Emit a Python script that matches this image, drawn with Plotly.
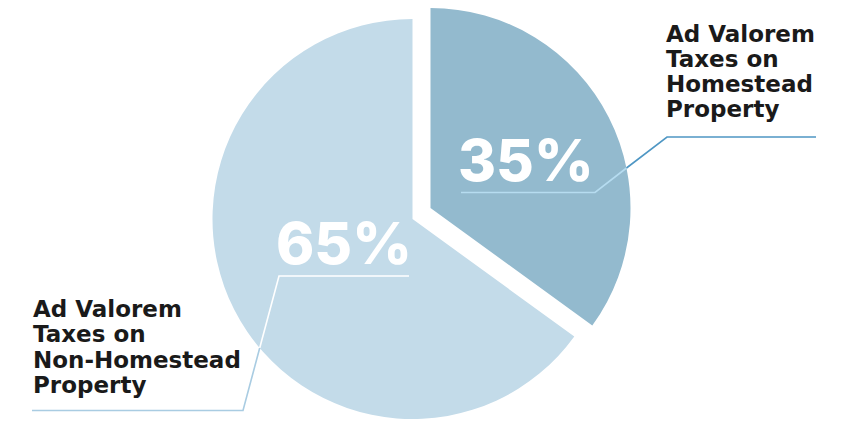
import plotly.graph_objects as go

W, H = 850, 428

categories = ['Ad Valorem Taxes on Homestead Property',
              'Ad Valorem Taxes on Non-Homestead Property']
values = [35, 65]
pct_labels = ['35%', '65%']
right_lines = ['Ad Valorem', 'Taxes on', 'Homestead', 'Property']
left_lines = ['Ad Valorem', 'Taxes on', 'Non-Homestead', 'Property']

dark = '#93bace'
light = '#c3dbe9'
clear = 'rgba(0,0,0,0)'


def px(x, y):
    # pixel position (from top-left) -> paper coords
    return x / W, 1 - y / H


def domain(cx, cy, r):
    return dict(x=[(cx - r) / W, (cx + r) / W],
                y=[1 - (cy + r) / H, 1 - (cy - r) / H])


fig = go.Figure()

# big slice, and the pulled-out slice drawn as its own shifted pie
fig.add_trace(go.Pie(labels=categories, values=values, sort=False,
                     direction='clockwise', rotation=0,
                     marker=dict(colors=[clear, light], line=dict(width=0)),
                     textinfo='none', domain=domain(412.5, 219, 200)))
fig.add_trace(go.Pie(labels=categories, values=values, sort=False,
                     direction='clockwise', rotation=0,
                     marker=dict(colors=[dark, clear], line=dict(width=0)),
                     textinfo='none', domain=domain(430.5, 208, 200)))


def seg(points, color, width=1.6):
    path = ''
    for i, (x, y) in enumerate(points):
        X, Y = px(x, y)
        path += ('M' if i == 0 else 'L') + f'{X:.5f},{Y:.5f}'
    fig.add_shape(type='path', path=path, xref='paper', yref='paper',
                  line=dict(color=color, width=width))


# leader lines
seg([(461, 192.5), (595, 192.5), (626.5, 168)], '#b6dcf0')
seg([(626.5, 168), (667, 137), (816, 137)], '#4f97c4')
seg([(409, 276), (279, 276), (259.7, 348)], '#ffffff')
seg([(259.7, 348), (243, 410.5), (32, 410.5)], '#a9cce2')

font_lbl = dict(family='DejaVu Sans', size=23, color='#1a1a1a', weight=700)
for i, t in enumerate(right_lines):
    X, Y = px(664, 34 + 25 * i)
    fig.add_annotation(x=X, y=Y, xref='paper', yref='paper', text=t,
                       showarrow=False, xanchor='left', yanchor='middle',
                       font=font_lbl)
for i, t in enumerate(left_lines):
    X, Y = px(31, 308.5 + 25.5 * i)
    fig.add_annotation(x=X, y=Y, xref='paper', yref='paper', text=t,
                       showarrow=False, xanchor='left', yanchor='middle',
                       font=font_lbl)

font_pct = dict(family='Inter', size=58, color='#ffffff', weight=800)
for t, (cx, cy) in zip(pct_labels, [(526, 160), (344, 243)]):
    X, Y = px(cx, cy)
    fig.add_annotation(x=X, y=Y, xref='paper', yref='paper', text=t,
                       showarrow=False, xanchor='center', yanchor='middle',
                       font=font_pct)

fig.update_layout(width=W, height=H, margin=dict(l=0, r=0, t=0, b=0),
                  showlegend=False, paper_bgcolor='white',
                  plot_bgcolor='white')

fig.write_html('out.html', config={'displayModeBar': False},
               post_script="document.body.style.margin='0';")
